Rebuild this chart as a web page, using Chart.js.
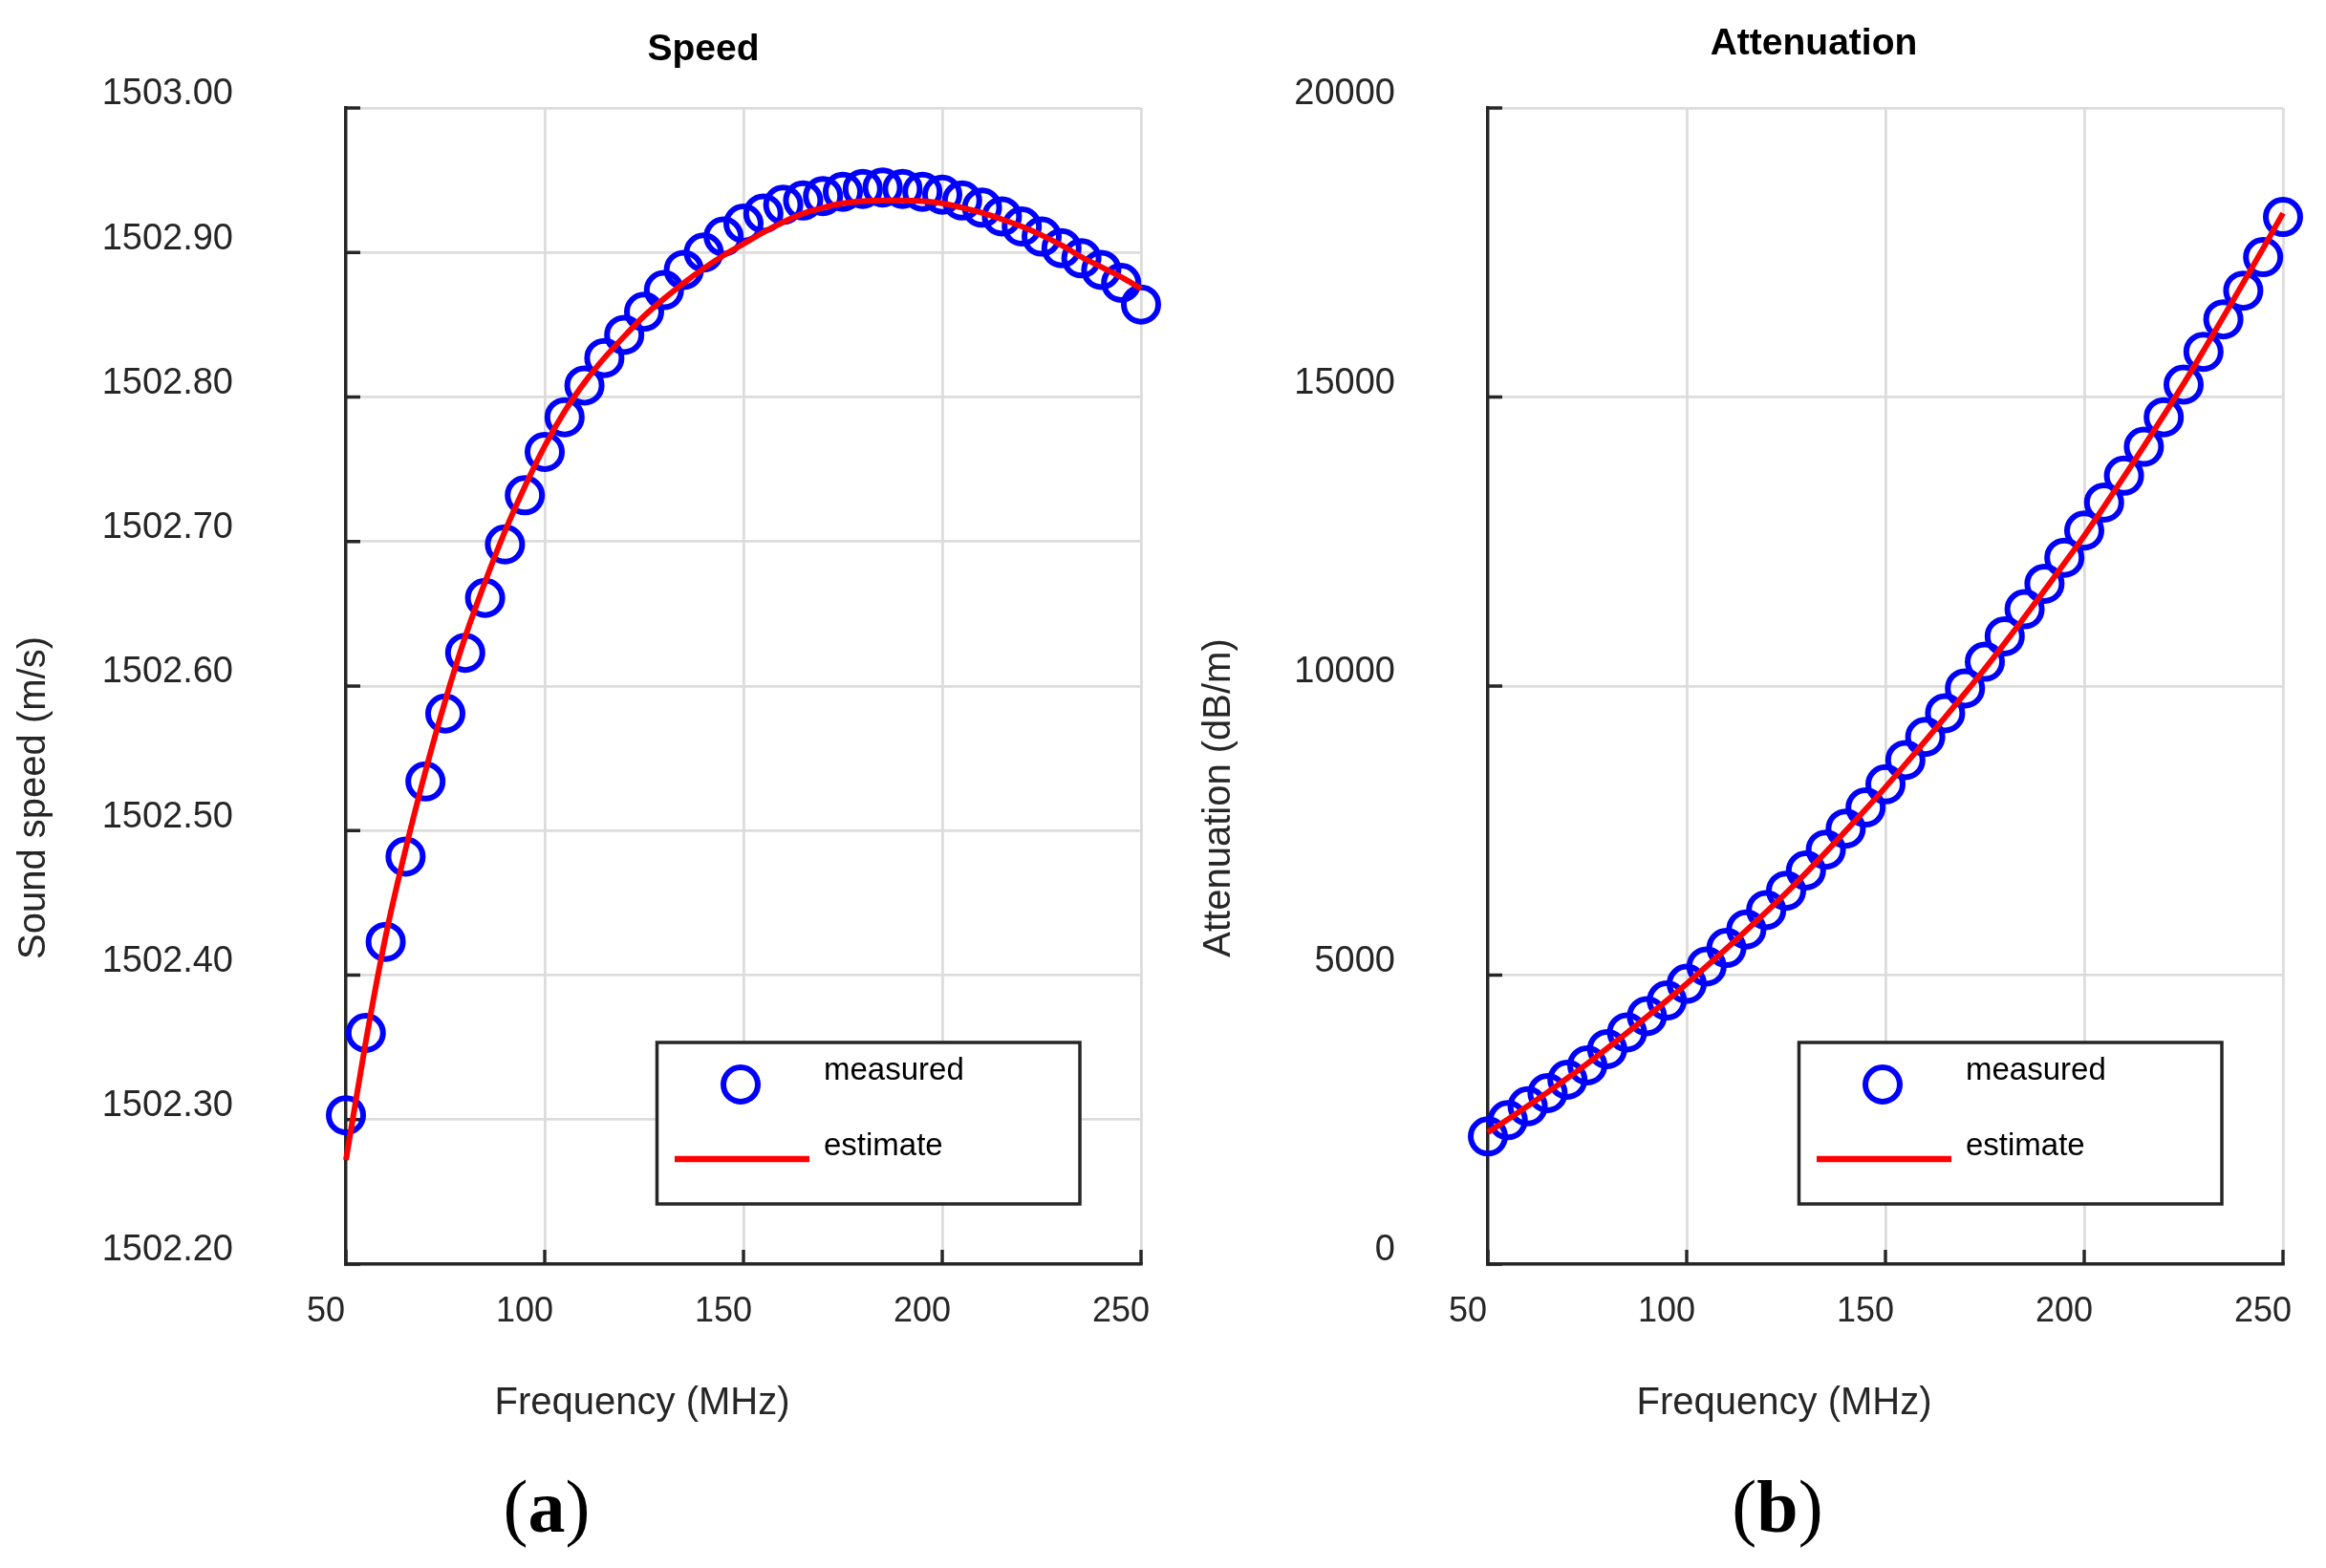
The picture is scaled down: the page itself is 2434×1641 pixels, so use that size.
<!DOCTYPE html>
<html>
<head>
<meta charset="utf-8">
<script src="https://cdn.jsdelivr.net/npm/chart.js"></script>
<style>
html,body{margin:0;padding:0;background:#fff;overflow:hidden;}
#wrap{position:relative;width:2434px;height:1641px;overflow:hidden;background:#fff;}
#wrap canvas{position:absolute;top:0;}
.panel{position:absolute;font-family:"Liberation Serif","Times New Roman",serif;font-size:78px;color:#000;line-height:1;transform:translate(-50%,-50%);white-space:nowrap;}
.panel b{font-weight:bold;}
</style>
</head>
<body>
<div id="wrap">
  <canvas id="speedChart" width="1240" height="1641" style="left:0;width:1240px;height:1641px"></canvas>
  <canvas id="attenChart" width="1194" height="1641" style="left:1240px;width:1194px;height:1641px"></canvas>
  <div class="panel" style="left:572px;top:1577px">(<b>a</b>)</div>
  <div class="panel" style="left:1860px;top:1577px">(<b>b</b>)</div>
</div>
<script>
// ---------------- data ----------------
const frequencies = [50,55,60,65,70,75,80,85,90,95,100,105,110,115,120,125,130,135,140,145,150,
                     155,160,165,170,175,180,185,190,195,200,205,210,215,220,225,230,235,240,245,250];

const speedMeasured = [1502.303,1502.360,1502.423,1502.482,1502.534,1502.581,1502.623,1502.661,1502.698,1502.732,
                       1502.762,1502.786,1502.808,1502.827,1502.843,1502.859,1502.874,1502.888,1502.900,1502.911,
                       1502.920,1502.927,1502.933,1502.936,1502.939,1502.942,1502.944,1502.945,1502.944,1502.942,
                       1502.940,1502.936,1502.931,1502.925,1502.918,1502.911,1502.903,1502.896,1502.888,1502.879,
                       1502.864];

const speedEstimate = [1502.272,1502.354,1502.427,1502.487,1502.541,1502.590,1502.634,1502.672,1502.707,1502.738,
                       1502.766,1502.790,1502.810,1502.827,1502.842,1502.856,1502.868,1502.879,1502.889,1502.898,
                       1502.906,1502.914,1502.921,1502.927,1502.931,1502.934,1502.9355,1502.936,1502.936,1502.9355,
                       1502.934,1502.931,1502.9275,1502.923,1502.918,1502.912,1502.905,1502.897,1502.890,1502.883,
                       1502.875];

const attenMeasured = [2210,2490,2730,2960,3190,3440,3720,4010,4290,4560,
                       4850,5150,5470,5790,6125,6460,6810,7170,7535,7900,
                       8300,8720,9120,9530,9960,10420,10860,11330,11770,12220,
                       12690,13175,13640,14140,14650,15215,15782,16345,16840,17420,
                       18115];

const attenEstimate = [2280,2504,2735,2973,3218,3470,3733,4003,4279,4561,
                       4850,5151,5459,5773,6093,6420,6768,7127,7493,7867,
                       8250,8646,9050,9460,9876,10300,10742,11195,11655,12123,
                       12600,13105,13622,14148,14684,15230,15802,16384,16974,17572,
                       18180];

const freqTicks  = [50,100,150,200,250];
const speedTicks = [1502.2,1502.3,1502.4,1502.5,1502.6,1502.7,1502.8,1502.9,1503.0];
const attenTicks = [0,5000,10000,15000,20000];

const seriesNames = ['measured','estimate'];
const chartTitles = ['Speed','Attenuation'];
const xAxisTitle = 'Frequency (MHz)';
const yAxisTitles = ['Sound speed (m/s)','Attenuation (dB/m)'];

// ---------------- styling ----------------
const FONT = '"Liberation Sans", Arial, Helvetica, sans-serif';
const INK = '#262626';
const GRID = '#dcdcdc';
const BLUE = '#0000ff';
const RED = '#ff0000';

Chart.defaults.font.family = FONT;

function pairs(xs, ys){ return xs.map((x,i)=>({x:x, y:ys[i]})); }

const decor = {
  id: 'decor',
  afterLayout(chart, args, o){
    const tb = chart.titleBlock;
    if (tb) {
      const half = (tb.right - tb.left) / 2;
      const c = chart.chartArea.left + o.titleDx;
      tb.left = c - half; tb.right = c + half;
    }
  },
  beforeDatasetsDraw(chart){
    const ctx = chart.ctx, a = chart.chartArea, sx = chart.scales.x, sy = chart.scales.y;
    ctx.save();
    ctx.strokeStyle = INK; ctx.lineWidth = 3.4; ctx.lineCap = 'butt';
    ctx.beginPath();
    sx.ticks.forEach(t => { const p = sx.getPixelForValue(t.value); ctx.moveTo(p, a.bottom); ctx.lineTo(p, a.bottom - 15); });
    sy.ticks.forEach(t => { const p = sy.getPixelForValue(t.value); ctx.moveTo(a.left, p); ctx.lineTo(a.left + 15, p); });
    ctx.stroke();
    ctx.restore();
  },
  afterDraw(chart, args, o){
    const ctx = chart.ctx, a = chart.chartArea;
    ctx.save();
    // axis titles
    ctx.fillStyle = INK;
    ctx.font = '40px ' + FONT;
    ctx.textAlign = 'center';
    ctx.textBaseline = 'middle';
    ctx.fillText(o.xTitle, (a.left + a.right)/2 - 106, a.bottom + 146);
    ctx.save();
    ctx.translate(a.left + o.yTitleDx, (a.top + a.bottom)/2 + 117);
    ctx.rotate(-Math.PI/2);
    ctx.fillText(o.yTitle, 0, 0);
    ctx.restore();
    // legend box
    const meas = chart.data.datasets.find(d => d.label === seriesNames[0]);
    const est  = chart.data.datasets.find(d => d.label === seriesNames[1]);
    const lx = a.left + 325.5, ly = a.top + 978, lw = 442.5, lh = 169;
    ctx.fillStyle = '#ffffff';
    ctx.fillRect(lx, ly, lw, lh);
    ctx.lineWidth = 3.5; ctx.strokeStyle = INK;
    ctx.strokeRect(lx, ly, lw, lh);
    ctx.beginPath();
    ctx.arc(lx + 87.5, ly + 44, meas.pointRadius, 0, Math.PI*2);
    ctx.lineWidth = meas.pointBorderWidth; ctx.strokeStyle = meas.pointBorderColor;
    ctx.stroke();
    ctx.beginPath();
    ctx.moveTo(lx + 18.5, ly + 122); ctx.lineTo(lx + 159.5, ly + 122);
    ctx.lineWidth = 6.5; ctx.strokeStyle = est.borderColor;
    ctx.stroke();
    ctx.fillStyle = '#000';
    ctx.font = '33px ' + FONT;
    ctx.textAlign = 'left';
    ctx.textBaseline = 'alphabetic';
    ctx.fillText(meas.label, lx + 174.5, ly + 39);
    ctx.fillText(est.label, lx + 174.5, ly + 118);
    ctx.restore();
  }
};

function buildChart(canvasId, cfg){
  return new Chart(document.getElementById(canvasId), {
    type: 'scatter',
    data: {
      datasets: [
        { label: seriesNames[1], data: pairs(frequencies, cfg.est), showLine: true,
          borderColor: RED, backgroundColor: RED, borderWidth: 6, pointRadius: 0, pointHoverRadius: 0,
          cubicInterpolationMode: 'monotone', order: 0, clip: false },
        { label: seriesNames[0], data: pairs(frequencies, cfg.meas), showLine: false,
          pointStyle: 'circle', pointRadius: 18, pointHoverRadius: 18, pointBorderWidth: 6,
          pointBorderColor: BLUE, borderColor: BLUE, pointBackgroundColor: 'rgba(0,0,0,0)',
          backgroundColor: 'rgba(0,0,0,0)', order: 1, clip: false }
      ]
    },
    options: {
      responsive: false, animation: false, devicePixelRatio: 1, events: [],
      layout: { padding: { left: 0, right: cfg.padRight, top: 0, bottom: 0 } },
      plugins: {
        legend: { display: false },
        tooltip: { enabled: false },
        title: { display: true, text: cfg.title, color: '#000', fullSize: true,
                 font: { family: FONT, size: 39, weight: 'bold', lineHeight: 1.2 },
                 padding: { top: cfg.titleTop, bottom: 113 - cfg.titleTop - 46.8 } },
        decor: { xTitle: xAxisTitle, yTitle: cfg.yTitle, yTitleDx: cfg.yTitleDx, titleDx: cfg.titleDx }
      },
      scales: {
        x: {
          type: 'linear', position: 'bottom', min: 50, max: 250,
          afterBuildTicks: s => { s.ticks = freqTicks.map(v => ({ value: v })); },
          afterFit: s => { s.height = 318; s.paddingLeft = 0; s.paddingRight = 0; },
          grid: { color: GRID, lineWidth: 2.8, drawTicks: false },
          border: { display: true, color: INK, width: 3.4 },
          ticks: { color: INK, font: { size: 36 }, padding: 28, labelOffset: -21,
                   maxRotation: 0, autoSkip: false, callback: v => String(v) }
        },
        y: {
          type: 'linear', position: 'left', min: cfg.yTicks[0], max: cfg.yTicks[cfg.yTicks.length - 1],
          afterBuildTicks: s => { s.ticks = cfg.yTicks.map(v => ({ value: v })); },
          afterFit: s => { s.width = cfg.yAxisWidth; s.paddingTop = 0; s.paddingBottom = 0; },
          grid: { color: GRID, lineWidth: 2.8, drawTicks: false },
          border: { display: true, color: INK, width: 3.4 },
          ticks: { color: INK, font: { size: 38 }, padding: cfg.yTickPad, labelOffset: -14,
                   autoSkip: false, callback: cfg.yFormat }
        }
      }
    },
    plugins: [decor]
  });
}

buildChart('speedChart', {
  meas: speedMeasured, est: speedEstimate, title: chartTitles[0], titleTop: 29, titleDx: 374,
  yTicks: speedTicks, yFormat: v => Number(v).toFixed(2),
  padRight: 46, yAxisWidth: 362, yTickPad: 118,
  yTitle: yAxisTitles[0], yTitleDx: -326
});

buildChart('attenChart', {
  meas: attenMeasured, est: attenEstimate, title: chartTitles[1], titleTop: 23,
  yTicks: attenTicks, yFormat: v => String(v), titleDx: 341,
  padRight: 45, yAxisWidth: 317, yTickPad: 97,
  yTitle: yAxisTitles[1], yTitleDx: -281
});
</script>
</body>
</html>
